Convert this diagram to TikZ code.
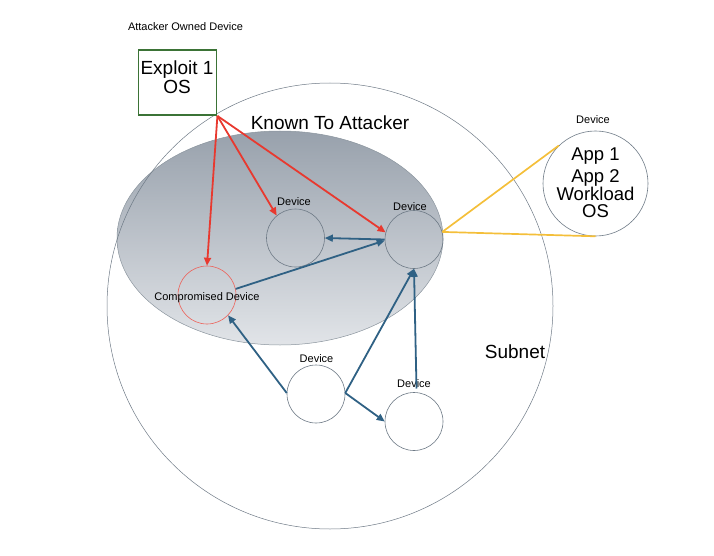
\documentclass[tikz,border=0pt]{standalone}
\usepackage{fontspec}
\setmainfont{Liberation Sans}
\usetikzlibrary{arrows.meta,shapes.geometric}
\definecolor{redarrow}{HTML}{E8392F}
\definecolor{bluearrow}{HTML}{2F6184}
\definecolor{yellowline}{HTML}{F4BF3A}
\definecolor{boxgreen}{HTML}{3B7336}
\definecolor{edgegray}{HTML}{6E7A86}
\definecolor{ellipsetop}{HTML}{98A1AC}
\definecolor{ellipsebot}{HTML}{E1E4E8}
\tikzset{
  devnode/.style={circle, draw=edgegray, line width=0.6pt, minimum size=58pt, inner sep=0pt},
  small/.style={font=\fontsize{11}{13}\selectfont},
  big/.style={font=\fontsize{19}{19}\selectfont},
  redarr/.style={draw=redarrow, line width=1.8pt, -{Triangle[length=8pt,width=7pt]}},
  bluearr/.style={draw=bluearrow, line width=1.8pt, -{Triangle[length=8pt,width=7pt]}},
  yellowln/.style={draw=yellowline, line width=1.7pt},
}
\begin{document}
\begin{tikzpicture}[x=1pt,y=-1pt]
\useasboundingbox (0,0) rectangle (714,556);
% known to attacker
\node[ellipse, draw=edgegray!80, line width=0.5pt, top color=ellipsetop, bottom color=ellipsebot, minimum width=326pt, minimum height=214pt, inner sep=0pt] (known) at (280,238) {};
\node[big] (knownlab) at (330,123) {Known To Attacker};
% subnet
\node[circle, draw=edgegray, line width=0.5pt, minimum size=446pt, inner sep=0pt] (subnet) at (330,306) {};
\node[big] (subnetlab) at (515,352) {Subnet};
% attacker device
\node[small] (attlab) at (185.5,27) {Attacker Owned Device};
\node[draw=boxgreen, line width=1.8pt, fill=white, minimum width=78pt, minimum height=65pt, inner sep=0pt] (exploit) at (177.5,82.5) {};
\node[big, align=center, inner sep=0pt] (exploittext) at (177,77.5) {Exploit 1\\OS};
% devices
\node[devnode] (d1) at (295.5,238) {};
\node[small] (d1lab) at (294,202) {Device};
\node[devnode] (d2) at (414,239.5) {};
\node[small] (d2lab) at (410,207) {Device};
\node[devnode, draw=redarrow!80] (comp) at (207,295) {};
\node[small] (complab) at (207,298) {Compromised Device};
\node[devnode, fill=white] (d3) at (316,394) {};
\node[small] (d3lab) at (316.5,359) {Device};
\node[devnode, fill=white] (d4) at (414,421.5) {};
\node[small] (d4lab) at (414,383.5) {Device};
\coordinate (d4top) at (416.5,388.5);
\node[circle, draw=edgegray, line width=0.6pt, fill=white, minimum size=105pt, inner sep=0pt] (bigdev) at (595.5,183.5) {};
\node[small] (biglab) at (593,120) {Device};
\node[font=\fontsize{18.5}{17.5}\selectfont, align=center, inner sep=0pt] (bigtext) at (595.5,182.5) {App 1\\[5pt]App 2\\Workload\\OS};
% yellow lines
\draw[yellowln] (d2.15) -- (bigdev.134);
\draw[yellowln] (d2.15) -- (bigdev.south);
% red arrows
\draw[redarr] (exploit.south east) -- (comp.north);
\draw[redarr] (exploit.south east) -- (d1.130);
\draw[redarr] (exploit.south east) -- (d2.166);
% blue arrows
\draw[bluearr] (d2.west) -- (d1.east);
\draw[bluearr] (comp.12) -- (d2.182);
\draw[bluearr] (d3.178) -- (comp.-44);
\draw[bluearr] (d3.2) -- (d2.south);
\draw[bluearr] (d3.2) -- (d4.west);
\draw[bluearr] (d4top) -- (d2.south);
\end{tikzpicture}
\end{document}
